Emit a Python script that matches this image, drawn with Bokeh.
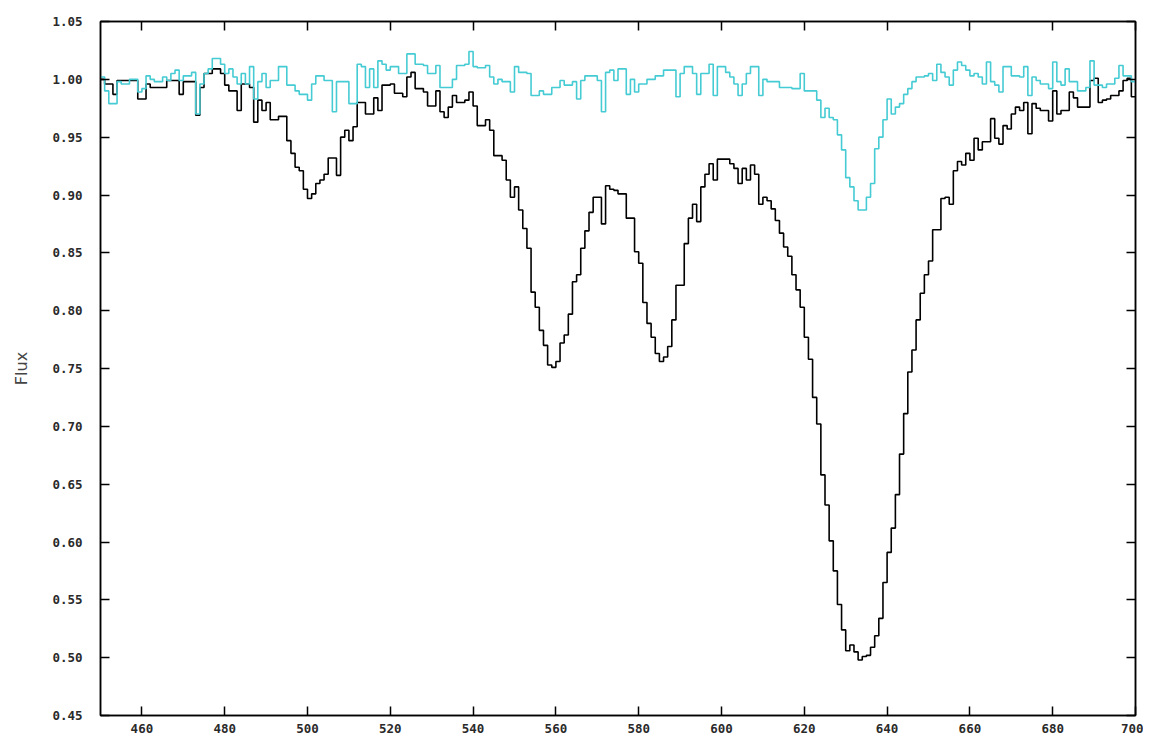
from bokeh.plotting import figure
from bokeh.models import Range1d, FixedTicker, LinearAxis, NumeralTickFormatter, ColumnDataSource
from bokeh.embed import file_html
from bokeh.resources import INLINE

# wavelength bins (left edges), 1 nm wide
wavelength = list(range(450, 700))

flux_black = [
    1.000, 0.996, 0.996, 0.987, 0.999, 0.999, 0.999, 0.999, 0.999, 0.983,
    0.983, 0.996, 0.993, 0.993, 0.993, 0.993, 0.999, 0.999, 0.999, 0.987,
    0.998, 0.998, 0.998, 0.969, 0.993, 1.005, 1.005, 1.009, 1.009, 1.005,
    0.995, 0.990, 0.990, 0.973, 0.996, 0.996, 0.993, 0.963, 0.982, 0.973,
    0.980, 0.965, 0.965, 0.968, 0.968, 0.947, 0.936, 0.924, 0.921, 0.905,
    0.897, 0.901, 0.910, 0.913, 0.918, 0.932, 0.932, 0.917, 0.950, 0.956,
    0.947, 0.959, 0.980, 0.980, 0.970, 0.970, 0.984, 0.973, 0.995, 0.995,
    0.996, 0.988, 0.988, 0.985, 1.002, 1.006, 0.992, 0.992, 0.989, 0.977,
    0.977, 0.990, 0.972, 0.967, 0.976, 0.986, 0.980, 0.980, 0.982, 0.989,
    0.977, 0.960, 0.960, 0.965, 0.956, 0.934, 0.934, 0.930, 0.913, 0.898,
    0.907, 0.887, 0.871, 0.854, 0.816, 0.803, 0.783, 0.770, 0.753, 0.751,
    0.756, 0.772, 0.779, 0.797, 0.825, 0.831, 0.854, 0.869, 0.885, 0.898,
    0.898, 0.875, 0.908, 0.905, 0.904, 0.901, 0.901, 0.880, 0.880, 0.851,
    0.841, 0.807, 0.789, 0.777, 0.763, 0.756, 0.760, 0.769, 0.792, 0.822,
    0.822, 0.858, 0.880, 0.892, 0.877, 0.907, 0.918, 0.927, 0.913, 0.931,
    0.931, 0.931, 0.927, 0.923, 0.910, 0.923, 0.913, 0.926, 0.918, 0.892,
    0.898, 0.895, 0.888, 0.878, 0.867, 0.855, 0.847, 0.831, 0.818, 0.803,
    0.777, 0.758, 0.725, 0.702, 0.658, 0.632, 0.601, 0.575, 0.546, 0.524,
    0.506, 0.511, 0.505, 0.498, 0.501, 0.502, 0.509, 0.519, 0.534, 0.565,
    0.591, 0.612, 0.641, 0.676, 0.711, 0.747, 0.766, 0.792, 0.815, 0.831,
    0.843, 0.870, 0.870, 0.897, 0.898, 0.892, 0.921, 0.929, 0.926, 0.936,
    0.930, 0.949, 0.939, 0.946, 0.946, 0.966, 0.949, 0.944, 0.960, 0.957,
    0.970, 0.976, 0.973, 0.980, 0.953, 0.979, 0.975, 0.973, 0.973, 0.964,
    0.990, 0.970, 0.973, 0.973, 0.989, 0.984, 0.976, 0.976, 0.976, 0.999,
    1.001, 0.980, 0.982, 0.983, 0.986, 0.986, 0.990, 0.999, 1.001, 0.985,
]

flux_cyan = [
    1.002, 0.990, 0.979, 0.979, 0.998, 0.996, 0.996, 1.000, 1.000, 0.989,
    0.992, 1.003, 1.000, 0.998, 0.998, 1.002, 0.999, 1.005, 1.008, 0.999,
    1.003, 1.003, 1.006, 0.970, 0.996, 1.005, 1.009, 1.018, 1.018, 1.013,
    1.005, 1.009, 1.002, 0.996, 1.005, 0.996, 1.011, 0.983, 0.998, 1.005,
    0.993, 0.999, 0.999, 1.011, 1.011, 0.995, 0.995, 0.990, 0.987, 0.987,
    0.982, 0.996, 1.003, 1.003, 0.999, 0.999, 0.972, 0.998, 0.998, 0.998,
    0.979, 0.979, 1.013, 1.011, 0.993, 1.009, 0.993, 1.016, 1.013, 1.008,
    1.011, 1.011, 1.005, 1.005, 1.022, 1.022, 1.013, 1.013, 1.012, 1.005,
    1.005, 1.012, 0.993, 0.993, 0.993, 1.000, 1.012, 1.012, 1.013, 1.024,
    1.011, 1.010, 1.010, 1.012, 1.002, 0.996, 1.000, 0.998, 0.998, 0.989,
    1.011, 1.006, 1.006, 1.005, 0.986, 0.986, 0.990, 0.987, 0.987, 0.993,
    0.993, 0.999, 0.995, 0.995, 0.998, 0.983, 0.999, 1.003, 1.003, 1.003,
    0.999, 0.972, 1.006, 1.008, 0.999, 1.009, 1.009, 0.987, 1.000, 0.989,
    0.996, 0.996, 1.000, 1.000, 1.003, 1.003, 1.008, 1.008, 1.008, 0.985,
    1.005, 1.011, 1.011, 1.005, 0.987, 1.005, 1.005, 1.013, 0.986, 1.011,
    1.011, 1.006, 1.002, 0.996, 0.986, 0.996, 1.005, 1.011, 1.011, 0.986,
    1.000, 0.998, 0.998, 0.998, 0.993, 0.993, 0.993, 0.992, 0.992, 1.005,
    0.990, 0.990, 0.990, 0.982, 0.967, 0.975, 0.967, 0.965, 0.952, 0.939,
    0.915, 0.907, 0.895, 0.887, 0.887, 0.898, 0.910, 0.940, 0.950, 0.965,
    0.983, 0.970, 0.976, 0.979, 0.987, 0.992, 0.998, 1.002, 1.002, 1.003,
    1.005, 0.999, 1.013, 1.006, 1.002, 0.995, 1.008, 1.015, 1.012, 1.008,
    1.003, 1.005, 1.002, 0.996, 1.015, 0.998, 0.995, 0.989, 1.011, 1.011,
    1.003, 1.003, 1.002, 1.011, 0.986, 1.002, 0.999, 0.996, 0.996, 0.992,
    1.015, 0.998, 0.995, 1.009, 0.998, 0.998, 0.990, 0.990, 0.993, 1.016,
    0.995, 0.995, 0.993, 0.996, 0.996, 1.001, 1.012, 1.003, 1.003, 0.998,
]

x_ticks = [460, 480, 500, 520, 540, 560, 580, 600, 620, 640, 660, 680, 700]
y_ticks = [0.45, 0.50, 0.55, 0.60, 0.65, 0.70, 0.75, 0.80, 0.85, 0.90, 0.95, 1.00, 1.05]

bin_width = wavelength[1] - wavelength[0]
edges = wavelength + [wavelength[-1] + bin_width]
src_black = ColumnDataSource(dict(x=edges, y=flux_black + [flux_black[-1]]))
src_cyan = ColumnDataSource(dict(x=edges, y=flux_cyan + [flux_cyan[-1]]))

p = figure(width=1143, height=748, output_backend="svg", toolbar_location=None,
           x_range=Range1d(450, 700), y_range=Range1d(0.45, 1.05),
           min_border_left=100, min_border_right=8, min_border_top=21, min_border_bottom=33,
           background_fill_color="white", border_fill_color="white")
p.xgrid.visible = False
p.ygrid.visible = False
p.outline_line_color = "black"
p.outline_line_width = 1.5

p.step("x", "y", source=src_black, mode="after", line_color="black", line_width=1.6)
p.step("x", "y", source=src_cyan, mode="after", line_color="#45cbd3", line_width=1.6)

TICK_FONT = "DejaVu Sans Mono"

def style_axis(ax, ticks, show_labels):
    ax.axis_line_color = "black"
    ax.axis_line_width = 1.5
    ax.major_tick_in = 9
    ax.major_tick_out = 0
    ax.major_tick_line_color = "black"
    ax.major_tick_line_width = 1.5
    ax.minor_tick_line_color = None
    ax.major_label_text_font = TICK_FONT
    ax.major_label_text_font_style = "bold"
    ax.major_label_text_color = "#2a2a2a"
    ax.major_label_text_font_size = "12.5px"
    if not show_labels:
        ax.major_label_overrides = {t: "" for t in ticks}
        ax.major_label_standoff = 0

xa = p.xaxis[0]
xa.ticker = FixedTicker(ticks=x_ticks)
style_axis(xa, x_ticks, True)
xa.major_label_standoff = 8

ya = p.yaxis[0]
ya.ticker = FixedTicker(ticks=y_ticks)
ya.formatter = NumeralTickFormatter(format="0.00")
style_axis(ya, y_ticks, True)
ya.major_label_standoff = 18
ya.axis_label = "Flux"
ya.axis_label_text_font = "DejaVu Sans"
ya.axis_label_text_font_style = "normal"
ya.axis_label_text_font_size = "16px"
ya.axis_label_text_color = "#444444"
ya.axis_label_standoff = 18

top = LinearAxis(ticker=FixedTicker(ticks=x_ticks))
style_axis(top, x_ticks, False)
p.add_layout(top, "above")

right = LinearAxis(ticker=FixedTicker(ticks=y_ticks))
style_axis(right, y_ticks, False)
p.add_layout(right, "right")

open("out.html", "w").write(file_html(p, INLINE))
